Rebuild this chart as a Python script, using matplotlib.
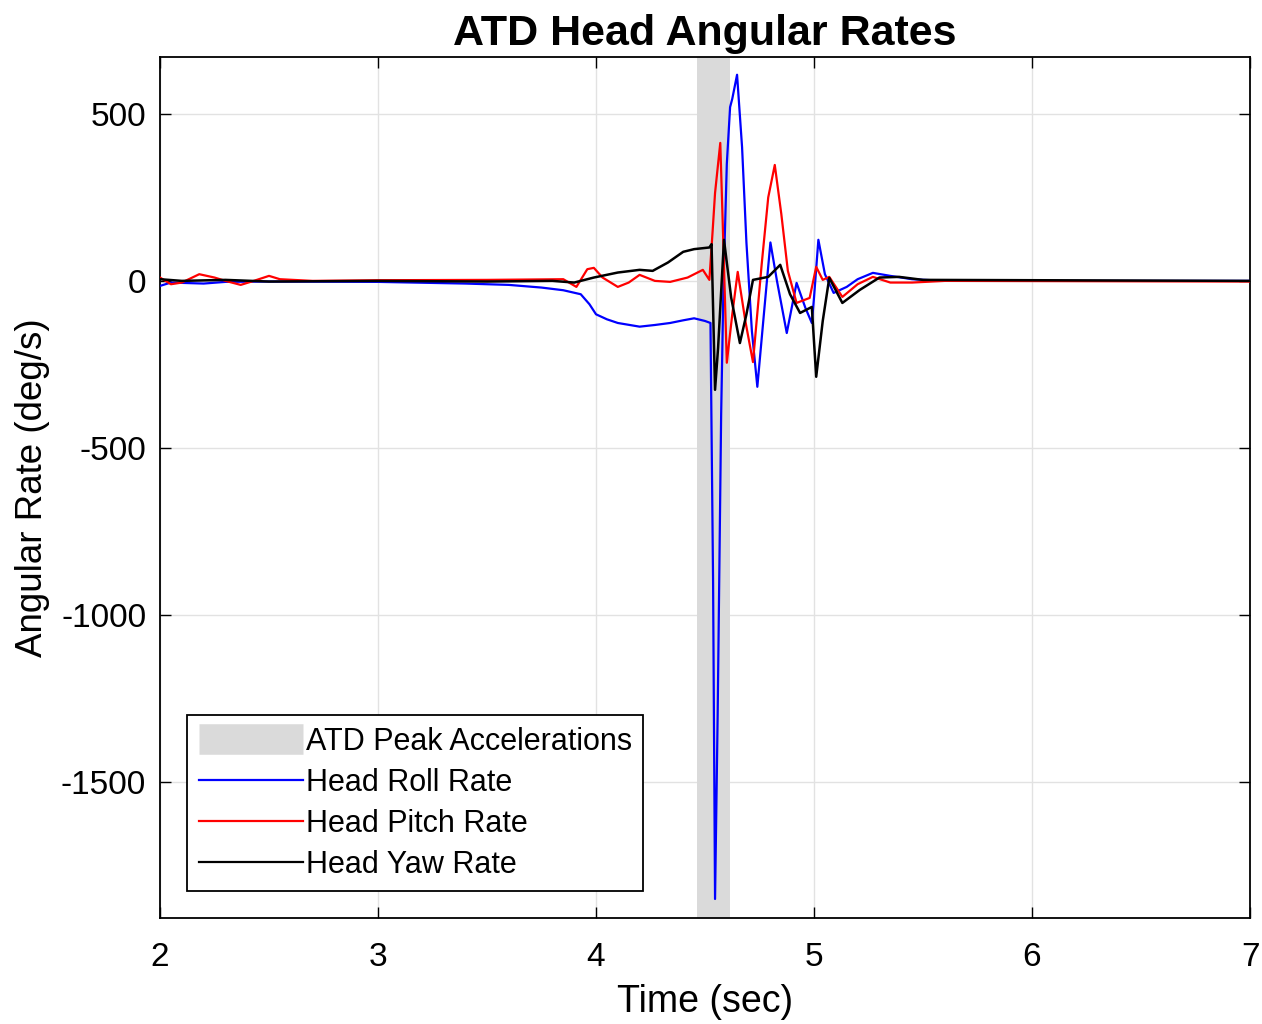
import matplotlib
matplotlib.use('Agg')
import matplotlib.pyplot as plt
from matplotlib.lines import Line2D

# values (time in sec, rate in deg/s)
roll_t = [2.0, 2.05, 2.2, 2.3, 2.5, 3.0, 3.4, 3.6, 3.75, 3.85, 3.93, 3.97, 4.0, 4.05,
          4.1, 4.2, 4.27, 4.34, 4.4, 4.45, 4.5, 4.525, 4.537, 4.546, 4.558, 4.574,
          4.585, 4.60, 4.615, 4.625, 4.647, 4.67, 4.69, 4.715, 4.74, 4.77, 4.80,
          4.83, 4.875, 4.92, 4.96, 4.99, 5.00, 5.02, 5.05, 5.09, 5.15, 5.2, 5.27,
          5.35, 5.45, 5.6, 7.0]
roll = [-15, -5, -8, -3, -2, -3, -8, -12, -20, -28, -40, -70, -100, -115,
        -126, -137, -132, -126, -118, -112, -120, -126, -900, -1850, -1300, -400,
        0, 350, 520, 545, 617, 400, 114, -150, -317, -100, 115,
        0, -156, -6, -80, -126, -50, 123, 20, -36, -18, 5, 24,
        15, 5, 0, 0]

pitch_t = [2.0, 2.05, 2.1, 2.18, 2.25, 2.3, 2.37, 2.43, 2.5, 2.55, 2.7, 3.0, 3.5,
           3.85, 3.91, 3.96, 3.99, 4.03, 4.10, 4.15, 4.2, 4.27, 4.34, 4.42, 4.49,
           4.52, 4.535, 4.546, 4.57, 4.58, 4.60, 4.625, 4.65, 4.685, 4.72, 4.76,
           4.79, 4.82, 4.85, 4.88, 4.92, 4.98, 5.01, 5.04, 5.07, 5.13, 5.2, 5.27,
           5.35, 5.45, 5.6, 7.0]
pitch = [10, -10, -5, 20, 10, 0, -12, 0, 15, 5, 0, 2, 3,
         5, -18, 35, 39, 10, -18, -5, 18, 0, -3, 10, 33,
         3, 150, 263, 413, 200, -245, -100, 27, -120, -243, 50,
         250, 347, 200, 30, -66, -51, 42, 3, 12, -48, -10, 12,
         -5, -5, 0, -2]

yaw_t = [2.0, 2.1, 2.3, 2.5, 3.0, 3.5, 3.8, 3.9, 3.99, 4.1, 4.2, 4.26, 4.33, 4.40,
         4.45, 4.52, 4.53, 4.546, 4.56, 4.587, 4.62, 4.66, 4.69, 4.72, 4.79, 4.845,
         4.89, 4.936, 4.99, 5.01, 5.04, 5.07, 5.13, 5.21, 5.3, 5.39, 5.5, 7.0]
yaw = [5, 0, 3, -2, 0, -2, 0, -5, 10, 25, 33, 30, 55, 87,
       95, 100, 110, -326, -200, 123, -50, -186, -100, 3, 12, 48,
       -40, -96, -78, -287, -120, 9, -66, -27, 10, 12, 3, 0]

peak_window = (4.463, 4.615)

xticks = [2, 3, 4, 5, 6, 7]
yticks = [-1500, -1000, -500, 0, 500]

plt.rcParams['font.family'] = ['Liberation Sans', 'DejaVu Sans']
plt.rcParams['axes.unicode_minus'] = False

fig = plt.figure(figsize=(12.62, 10.24), dpi=100)
ax = fig.add_axes([0.1268, 0.1035, 0.8637, 0.8408])

ax.grid(True, color='#e2e2e2', lw=1.0, zorder=0)
ax.set_axisbelow(True)
ax.axvspan(peak_window[0], peak_window[1], color='#dadada', lw=0, zorder=1)

ax.plot(roll_t, roll, color='#0000ff', lw=1.6, zorder=3)
ax.plot(pitch_t, pitch, color='#ff0000', lw=1.6, zorder=4)
ax.plot(yaw_t, yaw, color='black', lw=1.8, zorder=5)

ax.set_xlim(2, 7)
ax.set_ylim(-1907, 670)
ax.set_xticks(xticks)
ax.set_yticks(yticks)
ax.tick_params(direction='in', length=8, width=1, labelsize=24, top=True, right=True)
ax.tick_params(axis='x', pad=17)
ax.tick_params(axis='y', pad=10)
for s in ax.spines.values():
    s.set_linewidth(1.3)

ax.set_title('ATD Head Angular Rates', fontsize=31, fontweight='bold', pad=9)
ax.set_xlabel('Time (sec)', fontsize=27, labelpad=8)
ax.set_ylabel('Angular Rate (deg/s)', fontsize=26.5, labelpad=8)

handles = [Line2D([], [], color='#dadada', lw=22, solid_capstyle='butt'),
           Line2D([], [], color='#0000ff', lw=1.6),
           Line2D([], [], color='#ff0000', lw=1.6),
           Line2D([], [], color='black', lw=1.6)]
labels = ['ATD Peak Accelerations', 'Head Roll Rate', 'Head Pitch Rate', 'Head Yaw Rate']
leg = ax.legend(handles, labels, loc='lower left', bbox_to_anchor=(0.0248, 0.031),
                fontsize=22, handlelength=3.4, handletextpad=0.1, labelspacing=0.36,
                borderpad=0.38, borderaxespad=0, fancybox=False, framealpha=1)
leg.get_frame().set_edgecolor('black')
leg.get_frame().set_linewidth(1.3)

fig.savefig('out.png', dpi=100, facecolor='white')
